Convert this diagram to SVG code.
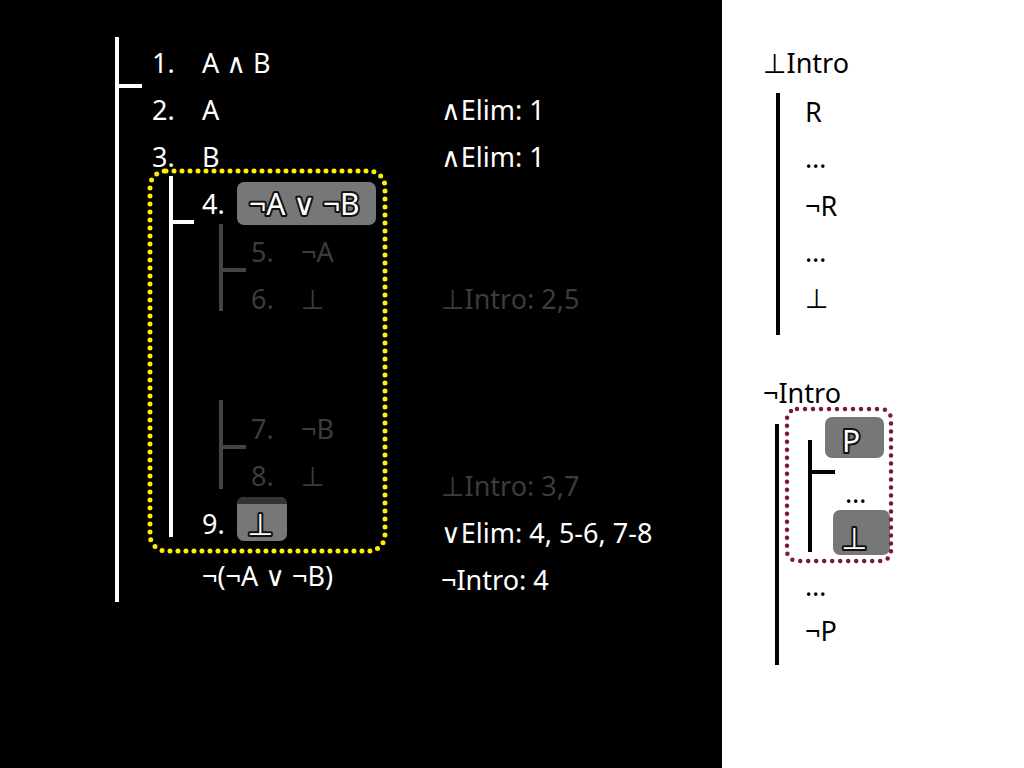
<svg xmlns="http://www.w3.org/2000/svg" width="1024" height="768" viewBox="0 0 1024 768">
<style>
text{font-family:"Noto Sans","Open Sans","DejaVu Sans",sans-serif;font-size:27px}
.w{fill:#fff}
.g{fill:#3c3c3c}
.k{fill:#000}
.hl{fill:#fff;stroke:#111;stroke-width:4;paint-order:stroke;stroke-linejoin:round;font-size:30px}
.wbar{stroke:#fff;stroke-width:4;fill:none}
.gbar{stroke:#444;stroke-width:4;fill:none}
.kbar{stroke:#000;stroke-width:4;fill:none}
.box{fill:#777}
</style>
<rect x="0" y="0" width="1024" height="768" fill="#fff"/>
<rect x="0" y="0" width="722" height="768" fill="#000"/>
<g id="connectors">
<path class="wbar" d="M117,37 V602 M117,86 H142"/>
<path class="wbar" d="M171,176 V537 M171,222 H194"/>
<path class="gbar" d="M221,224 V311 M221,270 H246"/>
<path class="gbar" d="M221,400 V489 M221,447 H246"/>
<path class="kbar" d="M778,93 V335"/>
<path class="kbar" d="M777,424 V665"/>
<path class="kbar" d="M810,440 V552 M810,472 H835"/>
</g>
<g id="highlight-yellow">
<rect x="150" y="171" width="235" height="380" rx="16" fill="none" stroke="#ffef00" stroke-width="5" stroke-dasharray="0 8" stroke-linecap="round"/>
</g>
<g id="line1"><text class="w" x="152" y="73">1.</text><text class="w" x="202" y="73">A ∧ B</text></g>
<g id="line2"><text class="w" x="152" y="120">2.</text><text class="w" x="202" y="120">A</text><text class="w" x="441" y="120">∧Elim: 1</text></g>
<g id="line3"><text class="w" x="152" y="167">3.</text><text class="w" x="202" y="167">B</text><text class="w" x="441" y="167">∧Elim: 1</text></g>
<g id="line4"><text class="w" x="202" y="214">4.</text><rect class="box" x="237" y="182" width="139" height="43" rx="7"/><text class="hl" x="249" y="215">¬A ∨ ¬B</text></g>
<g id="line5"><text class="g" x="251" y="262">5.</text><text class="g" x="301" y="262">¬A</text></g>
<g id="line6"><text class="g" x="251" y="309">6.</text><text class="g" x="301" y="309">⊥</text><text class="g" x="441" y="309">⊥Intro: 2,5</text></g>
<g id="line7"><text class="g" x="251" y="439">7.</text><text class="g" x="301" y="439">¬B</text></g>
<g id="line8"><text class="g" x="251" y="486">8.</text><text class="g" x="301" y="486">⊥</text><text class="g" x="441" y="496">⊥Intro: 3,7</text></g>
<g id="line9"><text class="w" x="202" y="534">9.</text><rect class="box" x="237" y="497" width="50" height="44" rx="7"/><path d="M237,504 a7,7 0 0 1 7,-7 H280 a7,7 0 0 1 7,7 Z" fill="#333"/><text class="hl" x="247" y="535">⊥</text><text class="w" x="441" y="543">∨Elim: 4, 5-6, 7-8</text></g>
<g id="conclusion"><text class="w" x="202" y="586">¬(¬A ∨ ¬B)</text><text class="w" x="441" y="590">¬Intro: 4</text></g>
<g id="bot-intro-rule">
<text class="k" x="763" y="73">⊥Intro</text>
<text class="k" x="805" y="122">R</text>
<text class="k" x="805" y="168">…</text>
<text class="k" x="805" y="216">¬R</text>
<text class="k" x="805" y="262">…</text>
<text class="k" x="805" y="308">⊥</text>
</g>
<g id="neg-intro-rule">
<text class="k" x="763" y="403">¬Intro</text>
<rect class="box" x="825" y="417" width="59" height="41" rx="7"/>
<text class="hl" x="842" y="452">P</text>
<text class="k" x="845" y="503">…</text>
<rect class="box" x="833" y="510" width="57" height="45" rx="7"/>
<text class="hl" x="841" y="549">⊥</text>
<rect x="787" y="409" width="104" height="152" rx="10" fill="none" stroke="#7b1a3e" stroke-width="4.5" stroke-dasharray="0 8" stroke-linecap="round"/>
<text class="k" x="805" y="596">…</text>
<text class="k" x="805" y="641">¬P</text>
</g>
</svg>
